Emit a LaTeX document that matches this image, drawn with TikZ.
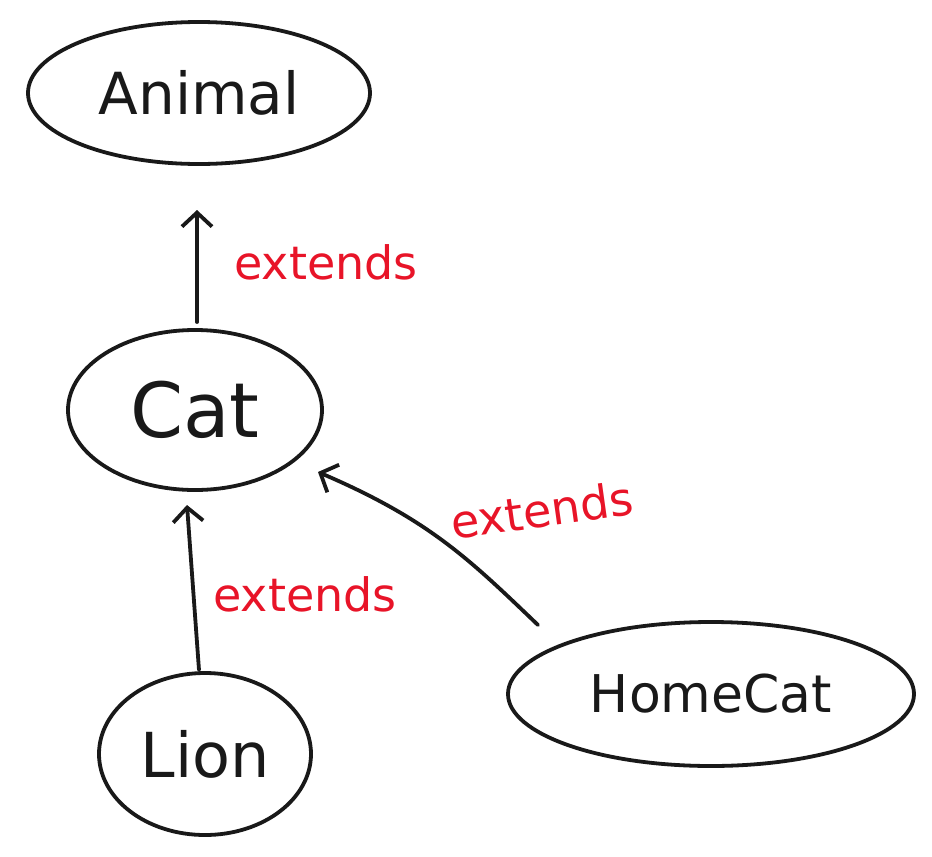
\documentclass[tikz,border=0pt]{standalone}
\usepackage{fontspec}
\setmainfont{DejaVu Sans}[Scale=1]
\usetikzlibrary{arrows.meta,shapes.geometric}
\definecolor{inkred}{RGB}{232,20,40}
\definecolor{ink}{RGB}{25,25,25}
\tikzset{
  cls/.style={draw=ink, line width=3.8pt, ellipse, inner sep=0pt, text=ink},
  ext/.style={draw=ink, line width=3.8pt, line cap=round, -{Straight Barb[length=14pt,width=30pt,line width=3.8pt]}},
  lbl/.style={text=inkred, font=\fontsize{46}{50}\selectfont},
}
\begin{document}
\begin{tikzpicture}[x=1pt,y=-1pt]
\useasboundingbox[fill=white] (0,0) rectangle (932,857);
\node[cls, minimum width=342pt, minimum height=142pt, font=\fontsize{58}{62}\selectfont] (animal) at (199,93) {Animal};
\node[cls, minimum width=254pt, minimum height=160pt, font=\fontsize{76}{80}\selectfont] (cat) at (195,410) {Cat};
\node[cls, minimum width=212pt, minimum height=162pt, font=\fontsize{62}{66}\selectfont] (lion) at (205,754) {Lion};
\node[cls, minimum width=406pt, minimum height=144pt, font=\fontsize{52}{56}\selectfont] (home) at (711,694) {HomeCat};
\coordinate (c1) at (197,322);
\coordinate (a1) at (197,210);
\draw[ext] (c1) -- (a1);
\node[lbl] (l1) at (326,262) {extends};
\coordinate (lt) at (199,670);
\coordinate (ct) at (187,505);
\draw[ext] (lt) -- (ct);
\node[lbl] (l2) at (305,594) {extends};
\coordinate (hs) at (538,625);
\coordinate (he) at (318,472);
\draw[ext] (hs) .. controls (470,560) and (430,520) .. (he);
\node[lbl, rotate=8] (l3) at (542,510) {extends};
\end{tikzpicture}
\end{document}
